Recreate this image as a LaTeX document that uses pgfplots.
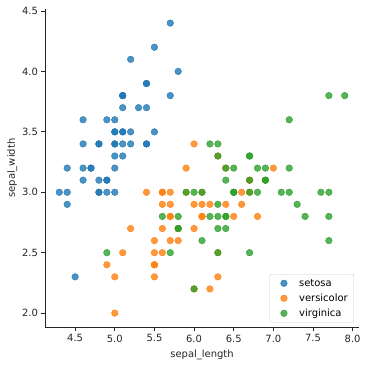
\documentclass[border=0pt]{standalone}
\usepackage{fontspec}
\setmainfont{DejaVu Sans}
\usepackage{pgfplots}
\pgfplotsset{compat=1.18}
\usetikzlibrary{calc}
\definecolor{c1}{HTML}{1F77B4}
\definecolor{c2}{HTML}{FF7F0E}
\definecolor{c3}{HTML}{2CA02C}
\begin{document}
\begin{tikzpicture}
\begin{axis}[
  scale only axis,
  width=314bp, height=319bp,
  xmin=4.12, xmax=8.08, ymin=1.88, ymax=4.52,
  axis x line*=bottom, axis y line*=left,
  axis line style={line width=0.8pt, black!85},
  xtick={4.5,5.0,5.5,6.0,6.5,7.0,7.5,8.0},
  ytick={2.0,2.5,3.0,3.5,4.0,4.5},
  tick align=outside, tick pos=left,
  major tick length=3.5bp,
  tick style={line width=0.8pt, black!85},
  /pgf/number format/assume math mode=true,
  xticklabel style={/pgf/number format/.cd, fixed, fixed zerofill, precision=1},
  yticklabel style={/pgf/number format/.cd, fixed, fixed zerofill, precision=1},
  ticklabel style={font=\fontsize{10}{12}\selectfont, text=black!85},
  xlabel={sepal\_length}, ylabel={sepal\_width},
  label style={font=\fontsize{10}{12}\selectfont, text=black!85},
  xlabel style={yshift=-1bp},
  ylabel style={yshift=-2bp},
  legend style={at={(0.984,0.016)}, anchor=south east, draw=black!20, fill=white, fill opacity=0.8, text opacity=1, draw opacity=1, rounded corners=2bp, font=\fontsize{10}{12}\selectfont, inner xsep=3bp, inner ysep=1.5bp,
    nodes={text height=7.5bp, text depth=2bp, inner ysep=2.75bp, inner xsep=3bp}},
  legend image code/.code={\draw[#1] plot coordinates {(0bp,0bp)}; \path (-11bp,0bp) (12bp,0bp);},
  legend cell align=left,
  every axis plot/.append style={only marks, mark=*, mark size=3.3bp},
]
\addplot[c1, mark options={draw=none, fill=c1, fill opacity=0.8}] coordinates {
(5.1,3.5)(4.9,3.0)(4.7,3.2)(4.6,3.1)(5.0,3.6)(5.4,3.9)(4.6,3.4)(5.0,3.4)(4.4,2.9)(4.9,3.1)
(5.4,3.7)(4.8,3.4)(4.8,3.0)(4.3,3.0)(5.8,4.0)(5.7,4.4)(5.4,3.9)(5.1,3.5)(5.7,3.8)(5.1,3.8)
(5.4,3.4)(5.1,3.7)(4.6,3.6)(5.1,3.3)(4.8,3.4)(5.0,3.0)(5.0,3.4)(5.2,3.5)(5.2,3.4)(4.7,3.2)
(4.8,3.1)(5.4,3.4)(5.2,4.1)(5.5,4.2)(4.9,3.1)(5.0,3.2)(5.5,3.5)(4.9,3.6)(4.4,3.0)(5.1,3.4)
(5.0,3.5)(4.5,2.3)(4.4,3.2)(5.0,3.5)(5.1,3.8)(4.8,3.0)(5.1,3.8)(4.6,3.2)(5.3,3.7)(5.0,3.3)
};
\addlegendentry{setosa}
\addplot[c2, mark options={draw=none, fill=c2, fill opacity=0.8}] coordinates {
(7.0,3.2)(6.4,3.2)(6.9,3.1)(5.5,2.3)(6.5,2.8)(5.7,2.8)(6.3,3.3)(4.9,2.4)(6.6,2.9)(5.2,2.7)
(5.0,2.0)(5.9,3.0)(6.0,2.2)(6.1,2.9)(5.6,2.9)(6.7,3.1)(5.6,3.0)(5.8,2.7)(6.2,2.2)(5.6,2.5)
(5.9,3.2)(6.1,2.8)(6.3,2.5)(6.1,2.8)(6.4,2.9)(6.6,3.0)(6.8,2.8)(6.7,3.0)(6.0,2.9)(5.7,2.6)
(5.5,2.4)(5.5,2.4)(5.8,2.7)(6.0,2.7)(5.4,3.0)(6.0,3.4)(6.7,3.1)(6.3,2.3)(5.6,3.0)(5.5,2.5)
(5.5,2.6)(6.1,3.0)(5.8,2.6)(5.0,2.3)(5.6,2.7)(5.7,3.0)(5.7,2.9)(6.2,2.9)(5.1,2.5)(5.7,2.8)
};
\addlegendentry{versicolor}
\addplot[c3, mark options={draw=none, fill=c3, fill opacity=0.8}] coordinates {
(6.3,3.3)(5.8,2.7)(7.1,3.0)(6.3,2.9)(6.5,3.0)(7.6,3.0)(4.9,2.5)(7.3,2.9)(6.7,2.5)(7.2,3.6)
(6.5,3.2)(6.4,2.7)(6.8,3.0)(5.7,2.5)(5.8,2.8)(6.4,3.2)(6.5,3.0)(7.7,3.8)(7.7,2.6)(6.0,2.2)
(6.9,3.2)(5.6,2.8)(7.7,2.8)(6.3,2.7)(6.7,3.3)(7.2,3.2)(6.2,2.8)(6.1,3.0)(6.4,2.8)(7.2,3.0)
(7.4,2.8)(7.9,3.8)(6.4,2.8)(6.3,2.8)(6.1,2.6)(7.7,3.0)(6.3,3.4)(6.4,3.1)(6.0,3.0)(6.9,3.1)
(6.7,3.1)(6.9,3.1)(5.8,2.7)(6.8,3.2)(6.7,3.3)(6.7,3.0)(6.3,2.5)(6.5,3.0)(6.2,3.4)(5.9,3.0)
};
\addlegendentry{virginica}
\end{axis}
\path ($(current axis.south west)+(-45bp,-39bp)$) rectangle ($(current axis.north east)+(8bp,8.6bp)$);
\end{tikzpicture}
\end{document}
